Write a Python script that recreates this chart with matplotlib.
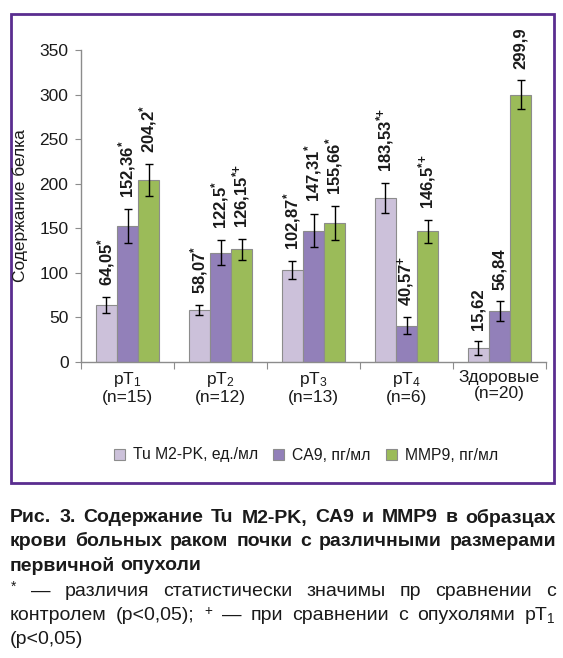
import matplotlib
matplotlib.use("Agg")
import matplotlib.pyplot as plt
import numpy as np
from matplotlib.patches import Rectangle, Patch

plt.rcParams['font.family'] = ['Liberation Sans', 'DejaVu Sans']
plt.rcParams['mathtext.default'] = 'regular'

categories = ["pT$_1$\n(n=15)", "pT$_2$\n(n=12)", "pT$_3$\n(n=13)", "pT$_4$\n(n=6)", "Здоровые\n(n=20)"]
series_names = ["Tu M2-PK, ед./мл", "CA9, пг/мл", "MMP9, пг/мл"]

tu = [64.05, 58.07, 102.87, 183.53, 15.62]
ca9 = [152.36, 122.5, 147.31, 40.57, 56.84]
mmp9 = [204.2, 126.15, 155.66, 146.5, 299.9]

tu_err = [9, 6, 10.5, 17, 8]
ca9_err = [19, 14, 19, 10, 11]
mmp9_err = [18, 11.5, 19, 13, 16]

tu_marks = ["*", "*", "*", "*+", ""]
ca9_marks = ["*", "*", "*", "+", ""]
mmp9_marks = ["*", "*+", "*", "*+", ""]

colors = ["#CCC1DA", "#9280B9", "#9BBB59"]
EDGE = "#8C8C8C"
FRAME = "#5A2D8F"
TXT = "#1A1A1A"

W, H = 563, 658
fig = plt.figure(figsize=(W / 100, H / 100), dpi=100)

# purple box around the chart
fig.patches.append(Rectangle((11 / W, 1 - 483 / H), 543 / W, 469 / H, transform=fig.transFigure,
                             fill=False, edgecolor=FRAME, linewidth=2.0))

ax = fig.add_axes([81 / W, 1 - 361.7 / H, 465 / W, 311.7 / H])

x = np.arange(len(categories))
bw = 0.226
all_vals = [tu, ca9, mmp9]
all_err = [tu_err, ca9_err, mmp9_err]
all_marks = [tu_marks, ca9_marks, mmp9_marks]
for i in range(3):
    xs = x + (i - 1) * bw
    ax.bar(xs, all_vals[i], width=bw, color=colors[i], edgecolor=EDGE, linewidth=0.8, zorder=2)
    ax.errorbar(xs, all_vals[i], yerr=all_err[i], fmt='none', ecolor='black',
                elinewidth=1.0, capsize=3.1, capthick=1.0, zorder=3)
    for j in range(len(x)):
        lab = "{:g}".format(all_vals[i][j]).replace(".", ",")
        m = all_marks[i][j]
        if m:
            lab += "${}^{" + m.replace("*+", r"*\!+") + "}$"
        ax.annotate(lab, (xs[j], all_vals[i][j] + all_err[i][j]), xytext=(0, 8),
                    textcoords='offset points', rotation=90, ha='center', va='bottom',
                    fontsize=12, fontweight='bold', color=TXT, zorder=4)

ax.set_xlim(-0.5, len(categories) - 0.5)
ax.set_ylim(0, 350)
ax.set_yticks(range(0, 351, 50))
ax.tick_params(axis='y', labelsize=12.5, length=4, color=EDGE, labelcolor=TXT, pad=5)

ax.set_xticks(np.arange(-0.5, len(categories), 1.0))
ax.set_xticklabels([])
ax.set_xticks(x, minor=True)
ax.set_xticklabels(categories, minor=True, fontsize=12.5, color=TXT)
for t in ax.get_xticklabels(minor=True):
    t.set_linespacing(1.1)
ax.tick_params(axis='x', which='major', length=5, color=EDGE)
ax.tick_params(axis='x', which='minor', length=0, pad=6)

for s in ['top', 'right']:
    ax.spines[s].set_visible(False)
for s in ['left', 'bottom']:
    ax.spines[s].set_color(EDGE)
    ax.spines[s].set_linewidth(1.0)

fig.text(20 / W, 1 - 206 / H, "Содержание белка", rotation=90, ha='center', va='center',
         fontsize=12.5, color=TXT)

handles = [Patch(facecolor=colors[i], edgecolor=EDGE, linewidth=0.8) for i in range(3)]
fig.legend(handles, series_names, loc='center', bbox_to_anchor=(306 / W, 1 - 455 / H), ncol=3,
           frameon=False, fontsize=11.3, handlelength=0.7, handleheight=0.7, handletextpad=0.5,
           columnspacing=1.0, labelcolor=TXT)

# caption, justified by hand
caption = [
    ("Рис. 3. Содержание Tu M2-PK, CA9 и MMP9 в образцах", 'bold', True),
    ("крови больных раком почки с различными размерами", 'bold', True),
    ("первичной опухоли", 'bold', False),
    ("${}^{*}$ — различия статистически значимы пр сравнении с", 'normal', True),
    ("контролем (p<0,05); ${}^{+}$ — при сравнении с опухолями pT$_1$", 'normal', True),
    ("(p<0,05)", 'normal', False),
]
cap_y = [516, 540, 564, 589, 613, 637]
x_left, x_right = 10, 556

fig.canvas.draw()
renderer = fig.canvas.get_renderer()
for (line, weight, just), yy in zip(caption, cap_y):
    words = line.split(" ")
    texts = []
    for wd in words:
        t = fig.text(0, 1 - yy / H, wd, fontsize=14, fontweight=weight, color=TXT,
                     ha='left', va='center_baseline')
        texts.append(t)
    widths = [t.get_window_extent(renderer).width for t in texts]
    if just and len(words) > 1:
        gap = (x_right - x_left - sum(widths)) / (len(words) - 1)
    else:
        gap = 4.8
    pos = x_left
    for t, wdt in zip(texts, widths):
        t.set_x(pos / W)
        pos += wdt + gap

fig.savefig("out.png", dpi=100)
